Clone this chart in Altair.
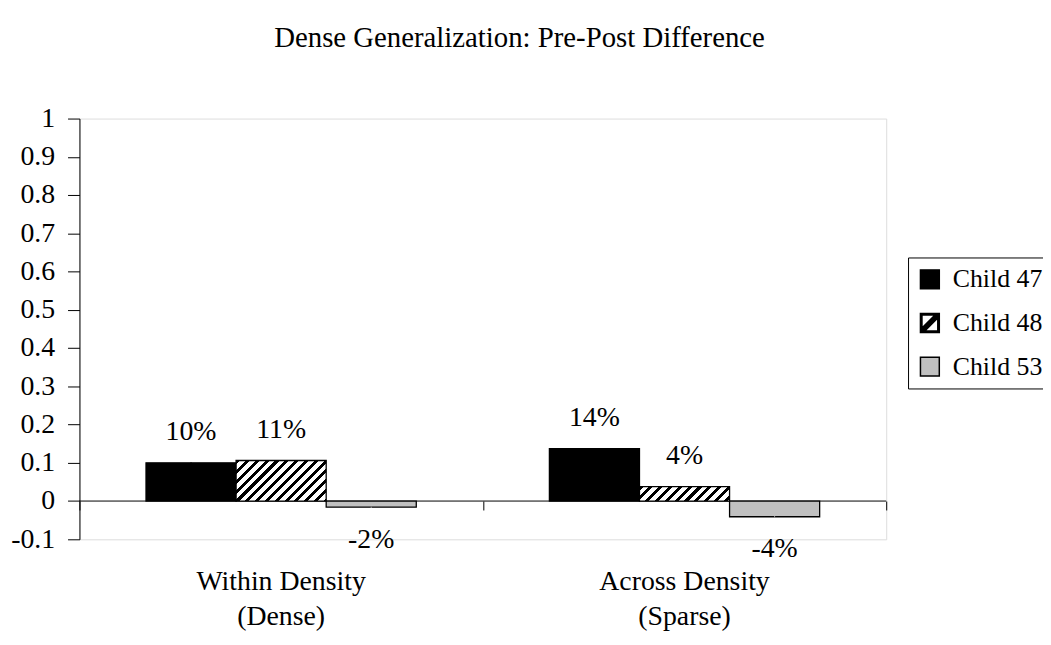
import math
import altair as alt
import pandas as pd

# ---------------- data ----------------
categories = ["Within Density|(Dense)", "Across Density|(Sparse)"]
series = ["Child 47", "Child 48", "Child 53"]
child47 = [0.100, 0.137]
child48 = [0.106, 0.038]
child53 = [-0.016, -0.041]
y_ticks = [-0.1, 0, 0.1, 0.2, 0.3, 0.4, 0.5, 0.6, 0.7, 0.8, 0.9, 1]
fills = ["#000000", "#000000", "#C0C0C0"]

rows = []
for i, c in enumerate(categories):
    for s, vals in zip(series, [child47, child48, child53]):
        rows.append({"cat": c, "series": s, "v": vals[i]})
df = pd.DataFrame(rows)

# ---------------- layout / style ----------------
FONT = "Liberation Serif"
FS = 28
PLOT_W = 813
PLOT_H = 424
Y_MIN, Y_MAX = -0.1, 1.0
PAD_INNER = 0.33
PAD = {"left": 72, "top": 109, "right": 158, "bottom": 91}

step = PLOT_W / len(categories)
bar_w = step * (1 - PAD_INNER) / len(series)
px_per_unit = PLOT_H / (Y_MAX - Y_MIN)


def hatch(w, h, period=7.0, dark=0.42):
    """Linear gradient imitating '/' diagonal hatching on a w x h box."""
    s = (w * w + h * h) / (w + h)
    n = (w + h) / (period * math.sqrt(2))
    stops = []
    k = 0
    while k / n < 1:
        a = k / n
        b = min((k + dark) / n, 1)
        c = min((k + 1) / n, 1)
        stops += [
            {"offset": a, "color": "#000000"},
            {"offset": b, "color": "#000000"},
            {"offset": b, "color": "#FFFFFF"},
            {"offset": c, "color": "#FFFFFF"},
        ]
        k += 1
    return {"gradient": "linear", "x1": 0, "y1": 0,
            "x2": w / s, "y2": h / s, "stops": stops}


conds = []
for c, v in zip(categories, child48):
    conds.append({
        "test": f"datum.series === 'Child 48' && datum.cat === '{c}'",
        "value": hatch(bar_w, abs(v) * px_per_unit),
    })

# legend key shapes: plain square, framed square with a '/' band, plain square
t, d = 0.16, 0.3
i_ = 1 - t
hatched_key = (
    "M-1,-1H1V1H-1Z"
    f"M{-i_},{-i_}V{i_}H{i_}V{-i_}Z"
    f"M{-i_},{i_ - d}L{i_ - d},{-i_}L{i_},{-i_}L{i_},{d - i_}"
    f"L{d - i_},{i_}L{-i_},{i_}Z"
)
shapes = ["square", hatched_key, "square"]

x_scale = alt.Scale(domain=categories, paddingInner=PAD_INNER,
                    paddingOuter=PAD_INNER / 2)
x_tick_scale = alt.Scale(domain=categories, paddingInner=0, paddingOuter=0)
y_scale = alt.Scale(domain=[Y_MIN, Y_MAX], nice=False, zero=False)

x_label_axis = alt.Axis(
    title=None, orient="bottom", domain=False, ticks=False, tickSize=0,
    labelAngle=0, labelFont=FONT, labelFontSize=FS, labelColor="black",
    labelExpr="split(datum.label, '|')", labelLineHeight=35,
    labelPadding=29,
)
y_axis = alt.Axis(
    title=None, values=y_ticks, grid=False, domainColor="black",
    tickColor="black", tickSize=12, labelPadding=13, labelFont=FONT,
    labelFontSize=FS, labelColor="black", labelOverlap=False,
    labelExpr="replace(format(datum.value, '.1~f'), '\u2212', '-')",
)

legend = alt.Legend(
    title=None, orient="none", legendX=835, legendY=140,
    labelFont=FONT, labelFontSize=26, labelColor="black",
    symbolSize=361, symbolStrokeColor="black",
    symbolStrokeWidth=1.5, strokeColor="black", padding=9,
    rowPadding=18, labelOffset=10, fillColor="white",
)

fill_scale = alt.Scale(domain=series, range=fills)
shape_scale = alt.Scale(domain=series, range=shapes)

X = alt.X("cat:N", sort=categories, scale=x_scale, axis=x_label_axis)
XO = alt.XOffset("series:N", sort=series)
Y = alt.Y("v:Q", scale=y_scale, axis=y_axis)

base = alt.Chart(df)

bars = base.mark_bar(stroke="black", strokeWidth=1.3).encode(
    x=X, xOffset=XO, y=Y,
    fill=alt.Fill("series:N", sort=series, scale=fill_scale,
                  legend=legend, condition=conds),
)

keys = base.mark_point(filled=True, size=1, strokeWidth=0, opacity=1).encode(
    x=X, xOffset=XO, y=Y,
    fill=alt.Fill("series:N", sort=series, scale=fill_scale, legend=legend),
    shape=alt.Shape("series:N", sort=series, scale=shape_scale, legend=legend),
)

label_expr = "(datum.v < 0 ? '-' : '') + format(abs(datum.v), '.0%')"
pos_text = base.transform_filter("datum.v >= 0").transform_calculate(
    lab=label_expr
).mark_text(font=FONT, fontSize=FS, color="black", baseline="middle",
            dy=-31).encode(x=X, xOffset=XO, y=Y, text="lab:N")
neg_text = base.transform_filter("datum.v < 0").transform_calculate(
    lab=label_expr
).mark_text(font=FONT, fontSize=FS, color="black", baseline="middle",
            dy=33).encode(x=X, xOffset=XO, y=Y, text="lab:N")

zero_df = pd.DataFrame({"v": [0.0]})
zero_line = alt.Chart(zero_df).mark_rule(color="black", strokeWidth=1).encode(
    y=Y
)

tick_axis = alt.Axis(
    title=None, orient="bottom", offset=-(0 - Y_MIN) * px_per_unit,
    tickBand="extent", labels=False, domain=False, ticks=True, tickSize=9,
    tickColor="black", tickWidth=1,
)
tick_layer = base.mark_rule(opacity=0).encode(
    x=alt.X("cat:N", sort=categories, scale=x_tick_scale, axis=tick_axis),
)

main = alt.layer(zero_line, bars, keys, pos_text, neg_text)

chart = alt.layer(tick_layer, main).resolve_scale(
    x="independent"
).resolve_axis(
    x="independent"
).properties(
    width=PLOT_W, height=PLOT_H,
    title=alt.TitleParams(
        "Dense Generalization: Pre-Post Difference", font=FONT,
        fontSize=29, fontWeight="normal", color="black", anchor="middle",
        frame="group", dx=37, offset=52,
    ),
    padding=PAD,
    autosize=alt.AutoSizeParams(type="none"),
).configure_view(stroke="#808080", strokeWidth=1).configure(background="white")

chart.save("out.html", embed_options={"renderer": "svg", "actions": False})
